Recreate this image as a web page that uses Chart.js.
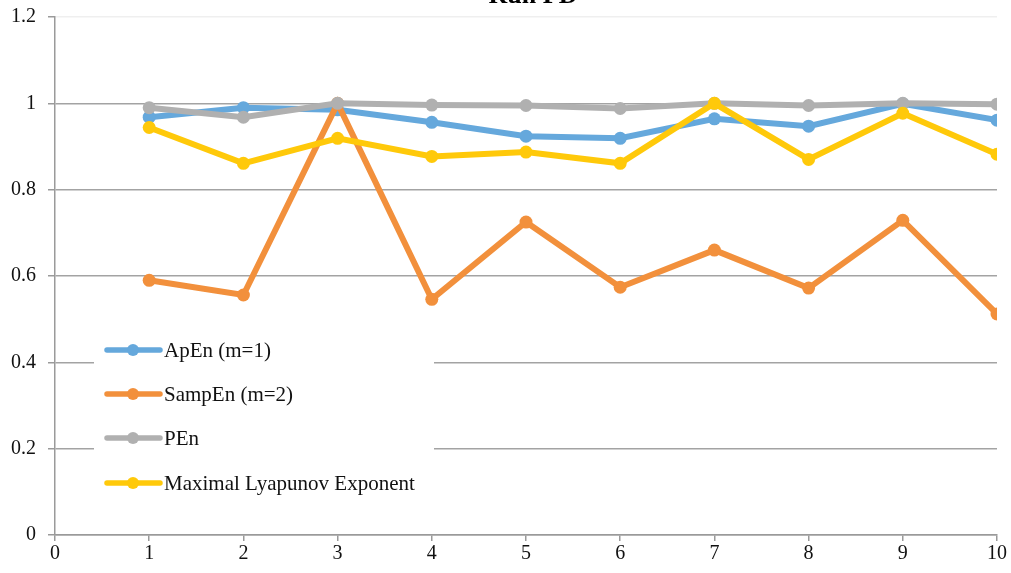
<!DOCTYPE html>
<html>
<head>
<meta charset="utf-8">
<script src="https://cdn.jsdelivr.net/npm/chart.js@4.4.0/dist/chart.umd.min.js"></script>
<style>
  html, body { margin: 0; padding: 0; background: #fff; }
  #wrap { width: 1011px; height: 573px; position: relative; }
</style>
</head>
<body>
<div id="wrap"><canvas id="chart"></canvas></div>
<script>
const runs = [1, 2, 3, 4, 5, 6, 7, 8, 9, 10];
const apEn = [0.968, 0.990, 0.985, 0.956, 0.924, 0.919, 0.964, 0.947, 0.999, 0.961];
const sampEn = [0.590, 0.556, 1.000, 0.546, 0.725, 0.574, 0.660, 0.572, 0.729, 0.512];
const pEn = [0.990, 0.968, 1.000, 0.996, 0.995, 0.988, 1.000, 0.995, 1.000, 0.998];
const lyapunov = [0.944, 0.861, 0.919, 0.877, 0.887, 0.861, 1.000, 0.870, 0.977, 0.882];
const yTicks = [0, 0.2, 0.4, 0.6, 0.8, 1, 1.2];

const serif = '"Liberation Serif", "DejaVu Serif", serif';

const makeSet = (label, values, color, order) => ({
    label: label,
    data: runs.map((r, i) => ({ x: r, y: values[i] })),
    borderColor: color,
    backgroundColor: color,
    borderWidth: 6,
    pointRadius: 6.5,
    pointBorderWidth: 0,
    pointBackgroundColor: color,
    tension: 0,
    order: order
});

const datasets = [
    makeSet('ApEn (m=1)', apEn, '#65a8dc', 4),
    makeSet('SampEn (m=2)', sampEn, '#f2903c', 3),
    makeSet('PEn', pEn, '#b0b0b0', 2),
    makeSet('Maximal Lyapunov Exponent', lyapunov, '#ffc90a', 1)
];

// legend box inside the plot, plus the clipped title at the top
const boxLegend = {
    id: 'boxLegend',
    afterDatasetsDraw(chart) {
        const ctx = chart.ctx;
        ctx.save();
        ctx.fillStyle = '#fff';
        ctx.fillRect(94, 334, 340, 170);
        const rows = [350, 394, 438, 483];
        datasets.forEach((ds, i) => {
            const y = rows[i];
            ctx.strokeStyle = ds.borderColor;
            ctx.lineWidth = 5.5;
            ctx.lineCap = 'round';
            ctx.beginPath();
            ctx.moveTo(107, y);
            ctx.lineTo(160, y);
            ctx.stroke();
            ctx.fillStyle = ds.borderColor;
            ctx.beginPath();
            ctx.arc(133, y, 6, 0, Math.PI * 2);
            ctx.fill();
            ctx.fillStyle = '#111';
            ctx.font = '21px ' + serif;
            ctx.textBaseline = 'middle';
            ctx.fillText(ds.label, 164, y + 1);
        });
        ctx.font = 'bold 26px ' + serif;
        ctx.textAlign = 'center';
        ctx.textBaseline = 'alphabetic';
        ctx.fillStyle = '#000';
        ctx.fillText('Run PD', 533, 3);
        ctx.restore();
    }
};

new Chart(document.getElementById('chart'), {
    type: 'line',
    data: { datasets: datasets },
    options: {
        responsive: true,
        maintainAspectRatio: false,
        animation: false,
        events: [],
        layout: { padding: { left: 0, right: 14, top: 17, bottom: 0 } },
        plugins: {
            legend: { display: false },
            tooltip: { enabled: false }
        },
        scales: {
            x: {
                type: 'linear',
                min: 0,
                max: 10,
                afterFit: s => { s.height = 38; s.paddingLeft = 0; s.paddingRight = 0; },
                afterBuildTicks: s => { s.ticks = [0,1,2,3,4,5,6,7,8,9,10].map(v => ({ value: v })); },
                border: { color: '#9a9a9a', width: 1.5 },
                grid: { drawOnChartArea: false, drawTicks: true, tickLength: 6, color: '#9a9a9a', lineWidth: 1.5 },
                ticks: {
                    color: '#111',
                    padding: 1,
                    maxRotation: 0,
                    font: { family: serif, size: 20 },
                    callback: v => String(v)
                }
            },
            y: {
                min: 0,
                max: 1.2,
                afterFit: s => { s.width = 55; s.paddingTop = 0; s.paddingBottom = 0; },
                afterBuildTicks: s => { s.ticks = yTicks.map(v => ({ value: v })); },
                border: { color: '#9a9a9a', width: 1.5 },
                grid: {
                    drawTicks: true,
                    tickLength: 7,
                    lineWidth: 1.5,
                    color: c => (c.tick && c.tick.value === 1.2) ? '#efefef' : '#a3a3a3',
                    tickColor: '#9a9a9a'
                },
                ticks: {
                    color: '#111',
                    padding: 12,
                    font: { family: serif, size: 20 },
                    callback: v => String(v)
                }
            }
        }
    },
    plugins: [boxLegend]
});
</script>
</body>
</html>
